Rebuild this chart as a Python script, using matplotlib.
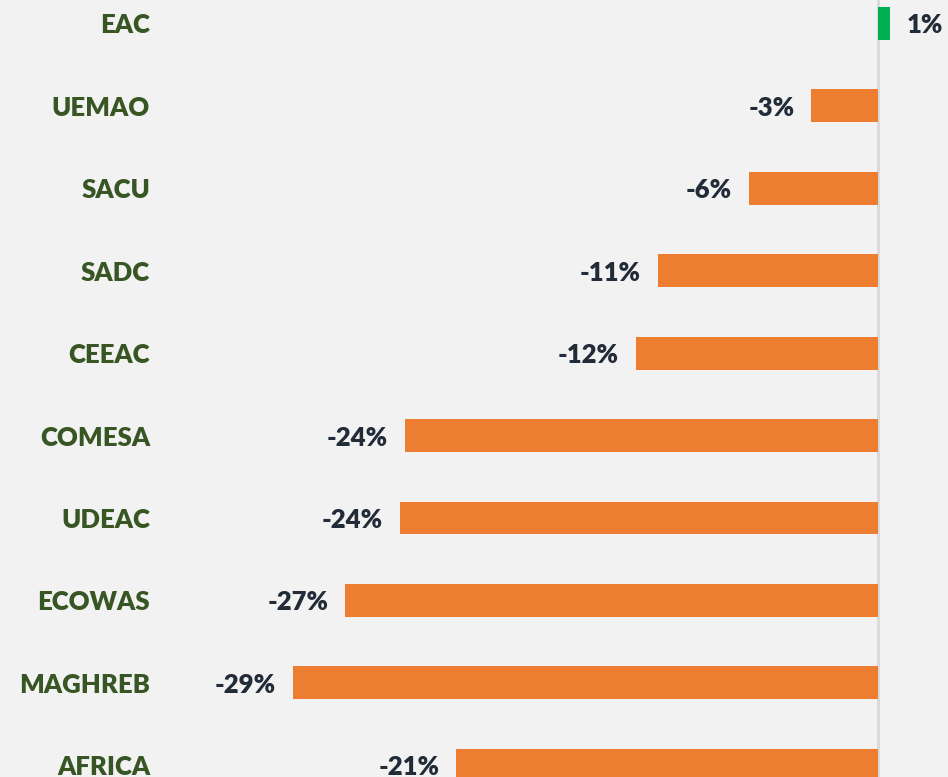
import matplotlib.pyplot as plt
from matplotlib.transforms import blended_transform_factory, offset_copy

regions = ["EAC", "UEMAO", "SACU", "SADC", "CEEAC", "COMESA", "UDEAC",
           "ECOWAS", "MAGHREB", "AFRICA"]
change = [0.6, -3.3, -6.4, -10.9, -12.0, -23.45, -23.7, -26.4, -29.0, -20.9]
labels = ["1%", "-3%", "-6%", "-11%", "-12%", "-24%", "-24%", "-27%", "-29%", "-21%"]

bg = "#f2f2f2"
orange = "#ed7d31"
green = "#00b050"
cat_color = "#375623"
val_color = "#222b38"

plt.rcParams['font.family'] = ['Lato', 'DejaVu Sans']

fig = plt.figure(figsize=(9.48, 7.77), dpi=100, facecolor=bg)
ax = fig.add_axes([0, 0, 1, 1], facecolor=bg)

ypos = list(range(len(regions)))
colors = [green if v > 0 else orange for v in change]
ax.barh(ypos, change, height=0.4, color=colors, zorder=2)
ax.axvline(0, color="#d9d9d9", lw=2, zorder=1)

ax.set_xlim(-43.5, 3.47)
ax.set_ylim(9.14, -0.28)
ax.axis("off")

for y, v, lab in zip(ypos, change, labels):
    if v < 0:
        tr = offset_copy(ax.transData, fig=fig, x=-17, y=-2, units="dots")
        ax.text(v, y, lab, transform=tr, ha="right", va="center",
                fontsize=18.5, fontweight="heavy", color=val_color)
    else:
        tr = offset_copy(ax.transData, fig=fig, x=17, y=-2, units="dots")
        ax.text(v, y, lab, transform=tr, ha="left", va="center",
                fontsize=18.5, fontweight="heavy", color=val_color)

tr = offset_copy(blended_transform_factory(ax.transAxes, ax.transData),
                 fig=fig, x=0, y=-2, units="dots")
for y, name in zip(ypos, regions):
    ax.text(150 / 948, y, name, transform=tr, ha="right", va="center",
            fontsize=18.5, fontweight="heavy", color=cat_color)

fig.savefig("out.png", dpi=100, facecolor=bg)
